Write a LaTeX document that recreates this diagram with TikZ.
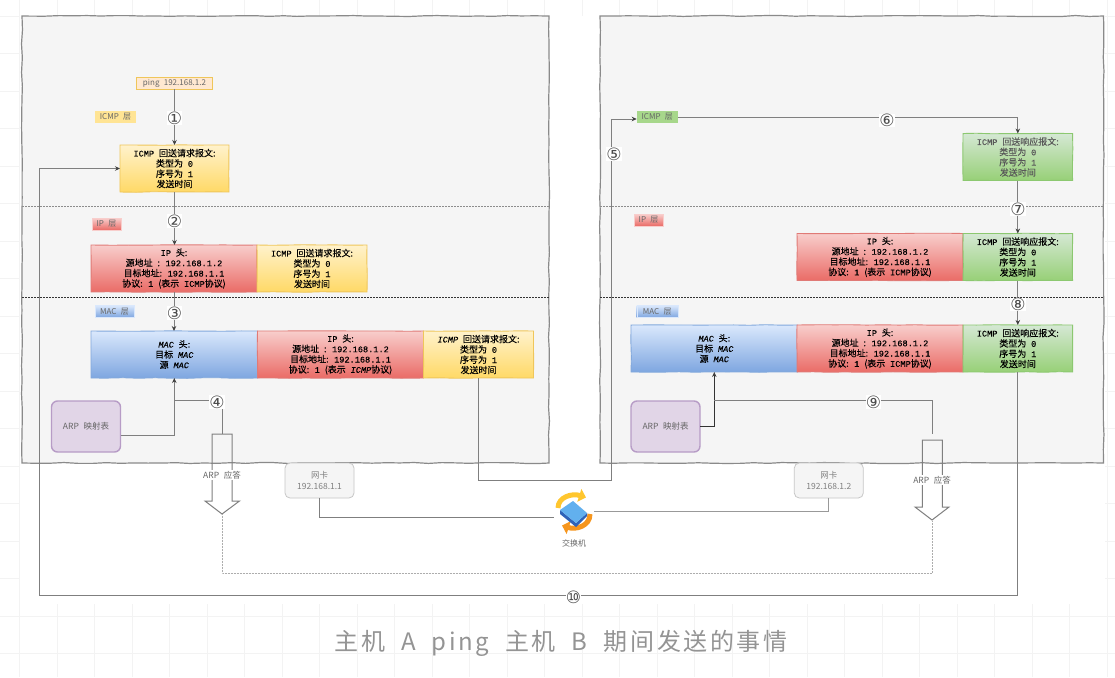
\documentclass[tikz,border=0pt]{standalone}
\usepackage{fontspec}
\setmainfont[WordSpace=2.4]{Noto Sans CJK SC}
\newfontfamily\numfont{DejaVu Sans}
\newfontfamily\latfont[FakeBold=.25]{Liberation Mono}
\newfontfamily\pktfont[WordSpace=2.4,FakeBold=.25]{Noto Sans CJK SC}
\newfontfamily\capfont[LetterSpace=11]{Noto Sans CJK SC}
\usetikzlibrary{arrows.meta,decorations.pathmorphing}
\newcommand{\la}[1]{{\latfont\fontsize{8.6}{10.3}\selectfont #1}}
\newcommand{\lai}[1]{{\latfont\itshape\fontsize{8.6}{10.3}\selectfont #1}}
\definecolor{gridcol}{HTML}{F3F3F3}
\definecolor{panelfill}{HTML}{F5F5F5}
\definecolor{panelline}{HTML}{8A8A8A}
\definecolor{wireline}{HTML}{7F7F7F}
\definecolor{softtext}{HTML}{666666}
\definecolor{yellowtop}{HTML}{FFF2CC}
\definecolor{yellowbot}{HTML}{FFD966}
\definecolor{yellowline}{HTML}{EFC65A}
\definecolor{redtop}{HTML}{F8CECC}
\definecolor{redbot}{HTML}{EA6B66}
\definecolor{redline}{HTML}{E07A76}
\definecolor{bluetop}{HTML}{DAE8FC}
\definecolor{bluebot}{HTML}{7EA6E0}
\definecolor{blueline}{HTML}{82A8DC}
\definecolor{greentop}{HTML}{D5E8D4}
\definecolor{greenbot}{HTML}{97D077}
\definecolor{greenline}{HTML}{8CC870}
\definecolor{arpfill}{HTML}{E1D5E7}
\definecolor{arpline}{HTML}{B79CC6}
\definecolor{swyellow}{HTML}{FFC62E}
\definecolor{sworange}{HTML}{F6961E}
\definecolor{swblue}{HTML}{62B0EE}
\definecolor{swdark}{HTML}{2F63B8}
\tikzset{
  hostpanel/.style={draw=panelline,fill=panelfill,line width=1.2pt,inner sep=0,outer sep=0,
    decorate,decoration={random steps,segment length=14pt,amplitude=.5pt}},
  pktbox/.style={align=center,inner sep=0,outer sep=0,line width=.9pt,
    font=\pktfont\fontsize{9}{10.3}\selectfont,text=black,minimum height=47,
    decorate,decoration={random steps,segment length=16pt,amplitude=.3pt}},
  yellowbox/.style={pktbox,draw=yellowline,top color=yellowtop,bottom color=yellowbot},
  redbox/.style={pktbox,draw=redline,top color=redtop,bottom color=redbot},
  bluebox/.style={pktbox,draw=blueline,top color=bluetop,bottom color=bluebot},
  greenbox/.style={pktbox,draw=greenline,top color=greentop,bottom color=greenbot},
  tagbox/.style={inner sep=0,outer sep=0,minimum height=12,text=softtext,
    font=\fontsize{8}{9}\selectfont},
  arpbox/.style={draw=arpline,fill=arpfill,rounded corners=6pt,line width=1.4pt,
    inner sep=0,outer sep=0,minimum width=69,minimum height=51,text=softtext,
    font=\fontsize{8.5}{10}\selectfont},
  nicbox/.style={draw=black!22,fill=panelfill,rounded corners=5pt,line width=.8pt,align=center,
    inner sep=0,outer sep=0,minimum width=69,minimum height=35,text=black!50,
    font=\fontsize{8.5}{11}\selectfont},
  numtag/.style={fill=white,inner sep=.2pt,text=black!70,font=\numfont\fontsize{17}{17}\selectfont},
  softlabel/.style={fill=white,inner sep=1pt,text=softtext,font=\fontsize{8.5}{10}\selectfont},
  wire/.style={draw=wireline,line width=.9pt},
  wirearrow/.style={wire,-{Stealth[length=5pt,width=4.5pt,color=black!75]}},
  hollowarrow/.style={draw=wireline,line width=1pt,line join=miter},
}
\begin{document}
\begin{tikzpicture}[x=1pt,y=-1pt]
  \useasboundingbox (0,0) rectangle (1115,677);

  % page grid, only seen outside the diagram
  \foreach \gx in {0,...,29}
    \draw[gridcol] (19.5+37.5*\gx,0) -- (19.5+37.5*\gx,677);
  \foreach \gy in {0,...,17}
    \draw[gridcol] (0,16+37.5*\gy) -- (1115,16+37.5*\gy);
  \fill[white] (19.5,16) rectangle (1105,604);

  % hosts
  \node[hostpanel,minimum width=527,minimum height=447] (hostA) at (285.5,239.5) {};
  \node[hostpanel,minimum width=503.5,minimum height=447] (hostB) at (851.75,239.5) {};
  \foreach \hostname in {hostA,hostB} {
    \draw[black!45,dash pattern=on 1.5pt off 1.5pt,line width=.6pt] (\hostname.west |- 0,206) -- (\hostname.east |- 0,206);
    \draw[black!80,dash pattern=on 1.5pt off 1.5pt,line width=.7pt] (\hostname.west |- 0,297) -- (\hostname.east |- 0,297);
  }

  % host A
  \node[draw=yellowline,fill=orange!18!white,line width=.8pt,minimum width=76,minimum height=12,inner sep=0,outer sep=0,
    text=softtext,font=\fontsize{8}{9}\selectfont] (ping) at (174.5,83) {ping 192.168.1.2};
  \node[tagbox,fill=yellowbot!70!white,minimum width=41] (icmpTagA) at (115.5,117) {ICMP 层};
  \node[tagbox,top color=redtop,bottom color=redbot,draw=redtop,minimum width=29] (ipTagA) at (106.5,224) {IP 层};
  \node[tagbox,top color=bluetop,bottom color=bluebot,draw=bluetop,minimum width=39] (macTagA) at (114.5,311.5) {MAC 层};
  \node[yellowbox,minimum width=109] (icmpA) at (174.5,168.5)
    {\la{ICMP} 回送请求报文:\\类型为 \la{0}\\序号为 \la{1}\\发送时间};
  \node[redbox,minimum width=166] (ipA) at (174,268.5)
    {\la{IP} 头:\\源地址 : \la{192.168.1.2}\\目标地址: \la{192.168.1.1}\\协议: \la{1} (表示 \la{ICMP}协议)};
  \node[yellowbox,minimum width=110] (icmpIpA) at (312,268.5)
    {\la{ICMP} 回送请求报文:\\类型为 \la{0}\\序号为 \la{1}\\发送时间};
  \node[bluebox,minimum width=166.5] (macA) at (174.3,354.5)
    {\lai{MAC} 头:\\目标 \lai{MAC}\\源 \lai{MAC}};
  \node[redbox,minimum width=166] (ipMacA) at (340.5,354.5)
    {\la{IP} 头:\\源地址 : \la{192.168.1.2}\\目标地址: \la{192.168.1.1}\\协议: \la{1} (表示 \lai{ICMP}协议)};
  \node[yellowbox,minimum width=110] (icmpMacA) at (478.5,354.5)
    {\lai{ICMP} 回送请求报文:\\类型为 \la{0}\\序号为 \la{1}\\发送时间};
  \node[arpbox] (arpA) at (86,426.5) {ARP 映射表};
  \node[nicbox] (nicA) at (319.5,480.5) {网卡\\192.168.1.1};

  % host B
  \node[tagbox,fill=greenbot!85!white,minimum width=41] (icmpTagB) at (657.2,117) {ICMP 层};
  \node[tagbox,top color=redtop,bottom color=redbot,draw=redtop,minimum width=29] (ipTagB) at (648.5,220) {IP 层};
  \node[tagbox,top color=bluetop,bottom color=bluebot,draw=bluetop,minimum width=41] (macTagB) at (657.2,311.5) {MAC 层};
  \node[greenbox,minimum width=109.5,text=black!65] (icmpB) at (1017.8,157)
    {\la{ICMP} 回送响应报文:\\类型为 \la{0}\\序号为 \la{1}\\发送时间};
  \node[redbox,minimum width=166] (ipB) at (880,257)
    {\la{IP} 头:\\源地址 : \la{192.168.1.2}\\目标地址: \la{192.168.1.1}\\协议: \la{1} (表示 \la{ICMP}协议)};
  \node[greenbox,minimum width=109.5] (icmpIpB) at (1017.8,257)
    {\la{ICMP} 回送响应报文:\\类型为 \la{0}\\序号为 \la{1}\\发送时间};
  \node[bluebox,minimum width=166.5] (macB) at (714.3,348.5)
    {\lai{MAC} 头:\\目标 \lai{MAC}\\源 \lai{MAC}};
  \node[redbox,minimum width=166] (ipMacB) at (880,348.5)
    {\la{IP} 头:\\源地址 : \la{192.168.1.2}\\目标地址: \la{192.168.1.1}\\协议: \la{1} (表示 \la{ICMP}协议)};
  \node[greenbox,minimum width=109.5] (icmpMacB) at (1017.8,348.5)
    {\la{ICMP} 回送响应报文:\\类型为 \la{0}\\序号为 \la{1}\\发送时间};
  \node[arpbox] (arpB) at (665.5,426.5) {ARP 映射表};
  \node[nicbox] (nicB) at (828.8,480.5) {网卡\\192.168.1.2};

  % switch icon
  \node[inner sep=0,outer sep=0,minimum width=40,minimum height=38] (switchbox) at (574,511.5) {};
  \node[inner sep=0,text=softtext,font=\fontsize{8}{9}\selectfont] (switchname) at (574,543) {交换机};
  \draw[swyellow,line width=5pt,-{Triangle[length=7pt,width=13pt]}]
    (558,508) .. controls (558,497) and (572,493) .. (586,497.5);
  \draw[sworange,line width=5pt,-{Triangle[length=7pt,width=13pt]}]
    (590,514) .. controls (590,526) and (576,530) .. (562,525.5);
  \fill[swdark] (560,510) -- (576,523) -- (587,513) -- (587,516) -- (576,527) -- (560,514) -- cycle;
  \fill[swblue] (573,501) -- (587,513) -- (576,523) -- (560,510) -- cycle;

  % hollow arrows of the ARP answer
  \coordinate (ackTopA) at (222,434);
  \coordinate (ackTipA) at (222,514);
  \coordinate (ackTopB) at (932,440);
  \coordinate (ackTipB) at (932,520);
  \draw[hollowarrow] (212,434) -- (232,434) -- (232,501) -- (239.5,501) -- (ackTipA)
    -- (205,501) -- (212,501) -- cycle;
  \draw[hollowarrow] (922.3,440) -- (942.3,440) -- (942.3,507) -- (949,507) -- (ackTipB)
    -- (915,507) -- (922.3,507) -- cycle;
  \node[softlabel] (ackTextA) at (222,475) {ARP 应答};
  \node[softlabel] (ackTextB) at (932,480) {ARP 应答};

  % connectors
  \foreach \from/\to in {ping/icmpA,icmpIpB/icmpMacB}
    \draw[wirearrow] (\from.south) -- (\from.south |- \to.north);
  \draw[wirearrow] (icmpA.south) -- (icmpA.south |- ipA.north);
  \draw[wirearrow] (ipA.south) -- (ipA.south |- macA.north);
  \draw[wirearrow] (icmpB.south) -- (icmpIpB.north);
  \draw[wirearrow] (arpA.east |- 0,435) -| (macA.south);
  \draw[wirearrow,black!80] (arpB.east) -| (macB.south);
  \coordinate (joinA) at (macA.south |- 0,400);
  \coordinate (joinB) at (macB.south |- 0,400);
  \draw[wire] (joinA) -| (ackTopA);
  \draw[wire] (joinB) -| ([yshift=6pt]ackTopB);
  \draw[black!32,densely dotted,line width=.5pt] (ackTipA) |- (ackTipB |- 0,573) -- (ackTipB);
  \coordinate (turnFive) at (611.5,480);
  \draw[wire] (icmpMacA.south) |- (turnFive);
  \draw[wirearrow] (turnFive) |- ([yshift=-2pt]icmpTagB.west);
  \draw[wirearrow] (icmpTagB.east) -| (icmpB.north);
  \coordinate (turnTen) at (39,595);
  \draw[wirearrow] (icmpMacB.south) |- (turnTen) |- (icmpA.west);
  \draw[wire,line width=1pt] (nicA.south) |- ([yshift=-5.5pt]switchbox.west);
  \draw[wire,black!40] (nicB.south) |- (switchbox.east);

  % step numbers
  \node[numtag] (stepOne) at (174.5,118) {①};
  \node[numtag] (stepTwo) at (174.5,221) {②};
  \node[numtag] (stepThree) at (174.5,313) {③};
  \node[numtag] (stepFour) at (217,402) {④};
  \node[numtag] (stepFive) at (614,154) {⑤};
  \node[numtag] (stepSix) at (887,120.5) {⑥};
  \node[numtag] (stepSeven) at (1018,209) {⑦};
  \node[numtag] (stepEight) at (1018,304.5) {⑧};
  \node[numtag] (stepNine) at (873.5,402) {⑨};
  \node[numtag] (stepTen) at (573.5,597) {⑩};

  % caption
  \node[inner sep=0,text=black!42,font=\capfont\fontsize{24}{26}\selectfont] (caption) at (561,643)
    {主机 \ A \ ping \ 主机 \ B \ 期间发送的事情};
\end{tikzpicture}
\end{document}
